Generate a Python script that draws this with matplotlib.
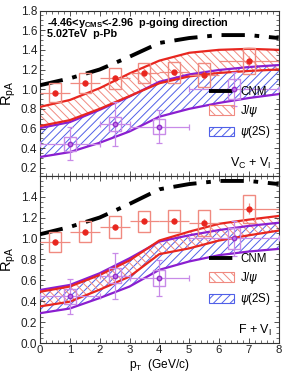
import numpy as np
import matplotlib
matplotlib.use("Agg")
import matplotlib.pyplot as plt
from matplotlib.patches import Rectangle
from matplotlib.ticker import MultipleLocator
from matplotlib.lines import Line2D

plt.rcParams['font.family'] = ['Liberation Sans', 'DejaVu Sans']
plt.rcParams['hatch.linewidth'] = 0.7

# ---------------- data ----------------
pt_grid = [0, 1, 2, 3, 4, 5, 6, 7, 8]
cnm = [1.04, 1.11, 1.20, 1.33, 1.47, 1.52, 1.55, 1.55, 1.52]

# top panel (Vc + VI)
jpsi_up_a = [0.82, 0.89, 1.01, 1.16, 1.29, 1.37, 1.40, 1.41, 1.40]
jpsi_lo_a = [0.625, 0.685, 0.80, 0.93, 1.06, 1.13, 1.165, 1.185, 1.20]
psi_up_a = [0.605, 0.665, 0.79, 0.925, 1.075, 1.15, 1.195, 1.225, 1.245]
psi_lo_a = [0.31, 0.36, 0.455, 0.57, 0.72, 0.80, 0.86, 0.91, 0.95]

# bottom panel (F + VI)
jpsi_up_b = [0.49, 0.54, 0.65, 0.79, 0.98, 1.065, 1.14, 1.18, 1.215]
jpsi_lo_b = [0.35, 0.395, 0.51, 0.635, 0.85, 0.905, 0.98, 1.03, 1.075]
psi_up_b = [0.507, 0.555, 0.667, 0.81, 0.97, 1.03, 1.08, 1.12, 1.15]
psi_lo_b = [0.285, 0.33, 0.43, 0.54, 0.70, 0.78, 0.84, 0.875, 0.90]

# measured J/psi
jpsi_pt = [0.5, 1.5, 2.5, 3.5, 4.5, 5.5, 7.0]
jpsi_xerr = [0.5, 0.5, 0.5, 0.5, 0.5, 0.5, 1.0]
jpsi_val = [0.965, 1.065, 1.11, 1.165, 1.17, 1.145, 1.285]
jpsi_stat = [0.03, 0.03, 0.03, 0.03, 0.03, 0.04, 0.05]
jpsi_syst = [0.095, 0.10, 0.105, 0.10, 0.105, 0.125, 0.135]

# measured psi(2S)
psi_pt = [1.0, 2.5, 4.0, 6.5]
psi_xerr = [1.0, 0.5, 1.0, 1.5]
psi_val = [0.445, 0.645, 0.62, 1.0]
psi_stat = [0.17, 0.22, 0.17, 0.17]
psi_syst = [0.07, 0.075, 0.075, 0.10]

RED = '#e8261f'
RED_L = '#f08a80'
PUR = '#8a1ed0'
PUR_L = '#c88ae8'
BLUE = '#5060e8'

fig = plt.figure(figsize=(2.91, 3.72), dpi=100)
L, R = 40/291, 278.7/291
ax1 = fig.add_axes([L, 1-175.7/372, R-L, (175.7-10.5)/372])
ax2 = fig.add_axes([L, 1-343/372, R-L, (343-175.7)/372])


def draw(ax, ju, jl, pu, pl):
    ax.fill_between(pt_grid, pl, pu, facecolor='none', edgecolor=BLUE,
                    hatch='////', linewidth=0, zorder=1)
    ax.fill_between(pt_grid, jl, ju, facecolor='none', edgecolor=RED_L,
                    hatch='\\\\\\\\', linewidth=0, zorder=1)
    for y in (pu, pl):
        ax.plot(pt_grid, y, color=PUR, lw=1.6, zorder=3)
    for y in (ju, jl):
        ax.plot(pt_grid, y, color=RED, lw=1.6, zorder=3)
    ax.plot(pt_grid, cnm, color='black', lw=2.8, dashes=(6, 2.5, 1.2, 2.5), zorder=3)
    # data
    for x, y, s in zip(jpsi_pt, jpsi_val, jpsi_syst):
        ax.add_patch(Rectangle((x-0.2, y-s), 0.4, 2*s, fill=False,
                               edgecolor=RED_L, lw=1.0, zorder=4))
    ax.errorbar(jpsi_pt, jpsi_val, xerr=jpsi_xerr, yerr=jpsi_stat, fmt='o',
                color=RED, ms=3.5, ecolor=RED_L, elinewidth=0.9, capsize=0, zorder=5)
    for x, y, s in zip(psi_pt, psi_val, psi_syst):
        ax.add_patch(Rectangle((x-0.2, y-s), 0.4, 2*s, fill=False,
                               edgecolor=PUR_L, lw=1.0, zorder=4))
    ax.errorbar(psi_pt, psi_val, xerr=psi_xerr, yerr=psi_stat, fmt='o',
                color='#b060e0', mfc='#c070e8', mec='#9030c8', ms=3.2,
                ecolor=PUR_L, elinewidth=0.9, capsize=2, capthick=0.9, zorder=5)
    ax.set_xlim(0, 8)
    ax.xaxis.set_major_locator(MultipleLocator(1))
    ax.xaxis.set_minor_locator(MultipleLocator(0.2))
    ax.yaxis.set_major_locator(MultipleLocator(0.2))
    ax.yaxis.set_minor_locator(MultipleLocator(0.05))
    ax.tick_params(which='both', direction='in', top=True, right=True,
                   labelsize=8.5, colors='#333333', labelcolor='#222222', pad=2)
    ax.tick_params(axis='x', labelsize=8.2, pad=1.2)
    ax.tick_params(which='major', length=3.5, width=0.6)
    ax.tick_params(which='minor', length=2, width=0.5)
    for sp in ax.spines.values():
        sp.set_linewidth(0.8)
        sp.set_color('#333333')
    ax.set_ylabel(r'R$_{\mathregular{pA}}$', fontsize=10.5, labelpad=2)
    handles = [Line2D([], [], color='black', lw=2.8, dashes=(6, 2.5, 1.2, 2.5)),
               Rectangle((0, 0), 1, 1, facecolor='none', edgecolor=RED_L, hatch='\\\\\\\\', lw=0.8),
               Rectangle((0, 0), 1, 1, facecolor='none', edgecolor=BLUE, hatch='////', lw=0.8)]
    ax.legend(handles, ['CNM', r'J/$\psi$', r'$\psi$(2S)'], loc='lower right',
              bbox_to_anchor=(1.0, 0.165), frameon=False, fontsize=8.3,
              handlelength=2.2, handleheight=0.9, handletextpad=0.5,
              labelspacing=0.45, borderaxespad=0.3)


draw(ax1, jpsi_up_a, jpsi_lo_a, psi_up_a, psi_lo_a)
draw(ax2, jpsi_up_b, jpsi_lo_b, psi_up_b, psi_lo_b)

ax1.set_ylim(0.12, 1.8)
ax1.tick_params(labelbottom=False)
ax2.set_ylim(0, 1.6)
ax2.set_yticks(np.arange(0, 1.41, 0.2))
ax2.set_xlabel(r'p$_{\mathregular{T}}$  (GeV/c)', fontsize=8.6)
ax2.xaxis.set_label_coords(0.5, -0.086)

ax1.text(0.03, 0.965, r'-4.46<y$_{\mathregular{CMS}}$<-2.96  p-going direction',
         transform=ax1.transAxes, fontsize=7.8, fontweight='bold', va='top', ha='left')
ax1.text(0.03, 0.885, '5.02TeV  p-Pb', transform=ax1.transAxes, fontsize=7.8,
         fontweight='bold', va='top', ha='left')
ax1.text(0.97, 0.03, r'V$_{\mathregular{C}}$ + V$_{\mathregular{I}}$', transform=ax1.transAxes,
         fontsize=9, va='bottom', ha='right')
ax2.text(0.97, 0.03, r'F + V$_{\mathregular{I}}$', transform=ax2.transAxes,
         fontsize=9, va='bottom', ha='right')

fig.savefig('out.png', dpi=100)
